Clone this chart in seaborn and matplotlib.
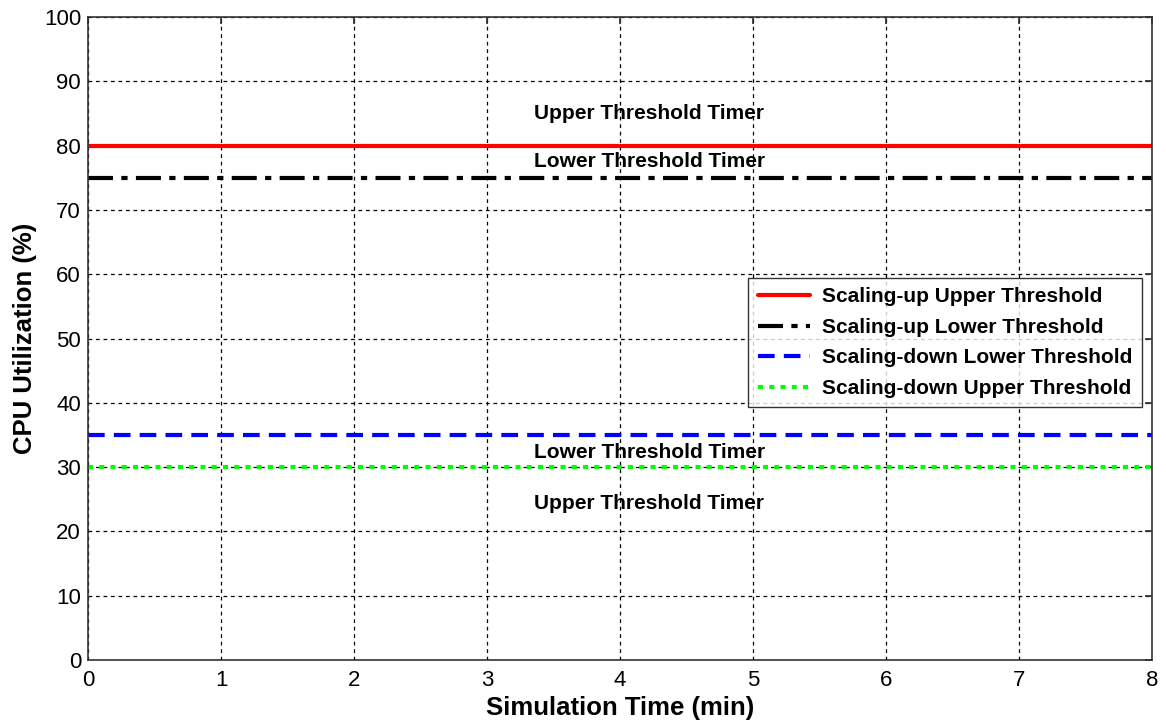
import matplotlib
matplotlib.use("Agg")
import matplotlib.pyplot as plt
import seaborn as sns
import pandas as pd
from matplotlib.lines import Line2D

# Data
time_span = [0, 8]
series_names = ["Scaling-up Upper Threshold", "Scaling-up Lower Threshold",
                "Scaling-down Lower Threshold", "Scaling-down Upper Threshold"]
threshold_values = [80, 75, 35, 30]
annotations = ["Upper Threshold Timer", "Lower Threshold Timer",
               "Lower Threshold Timer", "Upper Threshold Timer"]
annotation_y = [85, 77.5, 32.3, 24.3]
annotation_x = 4.22
x_ticks = list(range(0, 9))
y_ticks = list(range(0, 101, 10))

sns.set_theme(style="white")
plt.rcParams['font.family'] = ['Liberation Sans', 'DejaVu Sans']
plt.rcParams['text.color'] = 'black'
plt.rcParams['axes.labelcolor'] = 'black'
plt.rcParams['xtick.color'] = 'black'
plt.rcParams['ytick.color'] = 'black'

rows = []
for name, v in zip(series_names, threshold_values):
    for t in time_span:
        rows.append({"t": t, "v": v, "series": name})
df = pd.DataFrame(rows)

fig = plt.figure(figsize=(11.66, 7.21), dpi=100)
ax = fig.add_axes([0.0755, 0.0846, 0.9125, 0.8918])

colors = ["#ff0000", "#000000", "#0000ff", "#00ff00"]
styles = ['-', (0, (6, 2, 1.5, 2)), (0, (4, 2.2)), (0, (1.2, 1.5))]
palette = dict(zip(series_names, colors))
sns.lineplot(data=df, x="t", y="v", hue="series", palette=palette, ax=ax,
             legend=False, linewidth=3)
for line, st in zip(ax.get_lines(), styles):
    line.set_linestyle(st)

ax.set_xlim(0, 8)
ax.set_ylim(0, 100)
ax.set_xticks(x_ticks)
ax.set_yticks(y_ticks)
ax.tick_params(axis='both', labelsize=16, direction='in', length=5, color='#333333',
               top=True, right=True)
ax.tick_params(axis='x', pad=7)
ax.tick_params(axis='y', pad=5)
ax.grid(True, color='black', linestyle=(0, (3, 3)), linewidth=0.9)
for sp in ax.spines.values():
    sp.set_color('#333333')
    sp.set_linewidth(1.2)

for txt, y in zip(annotations, annotation_y):
    ax.text(annotation_x, y, txt, ha='center', va='center', fontsize=15, fontweight='bold')

ax.set_xlabel("Simulation Time (min)", fontsize=18.5, fontweight='bold', labelpad=4)
ax.set_ylabel("CPU Utilization (%)", fontsize=18.5, fontweight='bold', labelpad=5)

handles = [Line2D([0], [0], color=c, lw=3, linestyle=st) for c, st in zip(colors, styles)]
leg = ax.legend(handles, series_names, loc='upper right', bbox_to_anchor=(0.9906, 0.594),
                prop={'weight': 'bold', 'size': 15}, frameon=True, fancybox=False,
                edgecolor='black', handlelength=2.5, borderpad=0.45, labelspacing=0.55,
                handletextpad=0.6, borderaxespad=0)
leg.get_frame().set_linewidth(1.0)

fig.savefig("out.png", dpi=100)
